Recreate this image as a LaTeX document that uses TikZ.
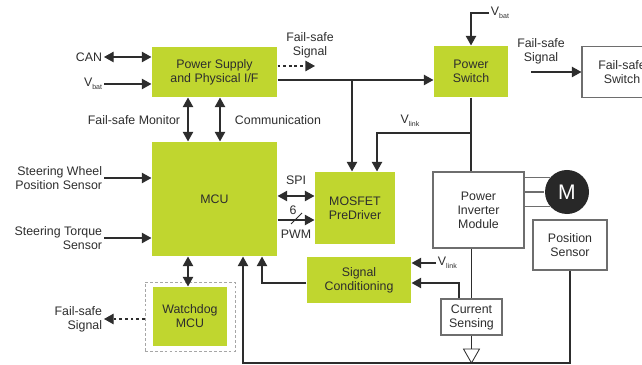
\documentclass[tikz,border=0pt]{standalone}
\usepackage{fontspec}
\setmainfont{Liberation Sans}
\usetikzlibrary{arrows.meta}
\definecolor{lime}{RGB}{192,214,47}
\definecolor{ink}{RGB}{45,45,45}
\definecolor{rim}{RGB}{110,110,110}
\newcommand{\lowidx}[1]{\raisebox{-2.2pt}{\fontsize{5}{5}\selectfont #1}}
\begin{document}
\begin{tikzpicture}[x=0.025cm,y=-0.025cm,color=ink,line width=0.8pt,
		font=\fontsize{8.8}{10}\selectfont,
		>={Triangle[length=6.8pt,width=7.4pt]},
		greenbox/.style={fill=lime,inner sep=0pt,align=center},
		whitebox/.style={draw=rim,fill=white,inner sep=0pt,align=center},
		lbl/.style={inner sep=1pt,align=center}]
		\useasboundingbox (0,0) rectangle (642,365);
		\clip (0,0) rectangle (642,365);
		% set up nodes
		\node[greenbox,minimum width=3.125cm,minimum height=1.25cm] (psu) at (214.5,72) {Power Supply\\and Physical I/F};
		\node[greenbox,minimum width=3.125cm,minimum height=2.85cm] (mcu) at (214.5,199) {MCU};
		\node[greenbox,minimum width=2cm,minimum height=1.8cm] (drv) at (355,208) {MOSFET\\PreDriver};
		\node[greenbox,minimum width=2.6cm,minimum height=1.15cm] (sigcond) at (359,280) {Signal\\Conditioning};
		\node[draw=gray!70,dash pattern=on 2pt off 1.5pt,line width=0.6pt,minimum width=2.25cm,minimum height=1.725cm] (wdogfrm) at (190,316.5) {};
		\node[greenbox,minimum width=1.85cm,minimum height=1.475cm] (wdog) at (190,316.5) {Watchdog\\MCU};
		\node[greenbox,minimum width=1.85cm,minimum height=1.275cm] (pswitch) at (471,71.5) {Power\\Switch};
		\node[whitebox,minimum width=2cm,minimum height=1.275cm] (fsswitch) at (622,72) {Fail-safe\\Switch};
		\node[whitebox,minimum width=2.275cm,minimum height=1.9cm] (inverter) at (478.5,210) {Power\\Inverter\\Module};
		\node[whitebox,minimum width=1.85cm,minimum height=1.25cm] (possens) at (570,245) {Position\\Sensor};
		\node[whitebox,minimum width=1.525cm,minimum height=0.9cm] (cursens) at (471.5,317) {Current\\Sensing};
		\node[circle,fill=ink!90!black,text=white,minimum size=1.1cm,inner sep=0pt,font=\fontsize{15}{15}\selectfont] (motor) at (567,192) {M};
		% labels
		\node[lbl,anchor=east] (can) at (104,57) {CAN};
		\node[lbl,anchor=east] (vbatin) at (104,84) {V\lowidx{bat}};
		\node[lbl] (fsout) at (310,45.5) {Fail-safe\\Signal};
		\node[lbl,anchor=west] (vbattop) at (489,13) {V\lowidx{bat}};
		\node[lbl] (fsctl) at (541,51.5) {Fail-safe\\Signal};
		\node[lbl,anchor=east] (fmlbl) at (182,120) {Fail-safe Monitor};
		\node[lbl,anchor=west] (comlbl) at (233,120) {Communication};
		\node[lbl] (vlinktop) at (410,121) {V\lowidx{link}};
		\node[lbl,anchor=east,align=right] (swps) at (104,178) {Steering Wheel\\Position Sensor};
		\node[lbl,anchor=east,align=right] (stq) at (104,238) {Steering Torque\\Sensor};
		\node[lbl] (spilbl) at (296,180) {SPI};
		\node[lbl] (sixlbl) at (293,210) {6};
		\node[lbl] (pwmlbl) at (296,234) {PWM};
		\node[lbl,anchor=west] (vlinkin) at (436,263) {V\lowidx{link}};
		\node[lbl,anchor=east,align=right] (fswd) at (104,319) {Fail-safe\\Signal};
		% junction points
		\coordinate (fsend) at (315,66);
		\coordinate (fsstart) at (531,72);
		\coordinate (tap) at (352,80);
		\coordinate (vl) at (470,133);
		\coordinate (fm) at (188,0);
		\coordinate (com) at (220,0);
		\coordinate (spi) at (0,196);
		\coordinate (pwm) at (0,220);
		\coordinate (sc) at (262,283);
		\coordinate (cs) at (459,283);
		\coordinate (gnd) at (471.5,349);
		\coordinate (fb) at (243,363);
		% connect them
		\draw[<->] (can.east) -- (can.east -| psu.west);
		\draw[->] (vbatin.east) -- (vbatin.east -| psu.west);
		\draw[->,dash pattern=on 2pt off 2pt] (psu.east |- fsend) -- (fsend);
		\draw[->] (psu.east |- tap) -- (pswitch.west |- tap);
		\draw[->] (tap) -- (drv.north -| tap);
		\draw[->] (vbattop.west) -| (pswitch.north);
		\draw (pswitch.south) -- (inverter.north -| pswitch.south);
		\draw[->] (vl) -| ([xshift=0.55cm]drv.north);
		\draw[->] (fsstart) -- (fsswitch.west);
		\draw[<->] (psu.south -| fm) -- (mcu.north -| fm);
		\draw[<->] (psu.south -| com) -- (mcu.north -| com);
		\draw[->] (swps.east) -- (swps.east -| mcu.west);
		\draw[->] (stq.east) -- (stq.east -| mcu.west);
		\draw[<->] (mcu.east |- spi) -- (drv.west |- spi);
		\draw[->] (mcu.east |- pwm) -- (drv.west |- pwm);
		\draw[line width=0.6pt] (291,224) -- (302,213);
		\draw[<->] (mcu.south -| fm) -- (wdog.north -| fm);
		\draw[->,dash pattern=on 2pt off 2pt] (wdogfrm.west |- fswd.east) -- (fswd.east);
		\draw[->] (sigcond.west |- sc) -| (mcu.south -| sc);
		\draw[->] (vlinkin.west) -- (vlinkin.west -| sigcond.east);
		\draw[->] (cursens.north -| cs) |- (sigcond.east |- cs);
		\draw (inverter.south -| cursens.north) -- (cursens.north);
		\draw (cursens.south) -- (gnd);
		\draw[line width=0.6pt,fill=white] (gnd) ++(-8,0) -- ++(16,0) -- ++(-8,14) -- cycle;
		\draw[->] (possens.south) |- (fb) -- (mcu.south -| fb);
		\draw[rim] (inverter.east |- motor.140) -- (motor.140);
		\draw[rim] (inverter.east |- motor.180) -- (motor.180);
		\draw[rim] (inverter.east |- motor.220) -- (motor.220);
	\end{tikzpicture}
\end{document}
